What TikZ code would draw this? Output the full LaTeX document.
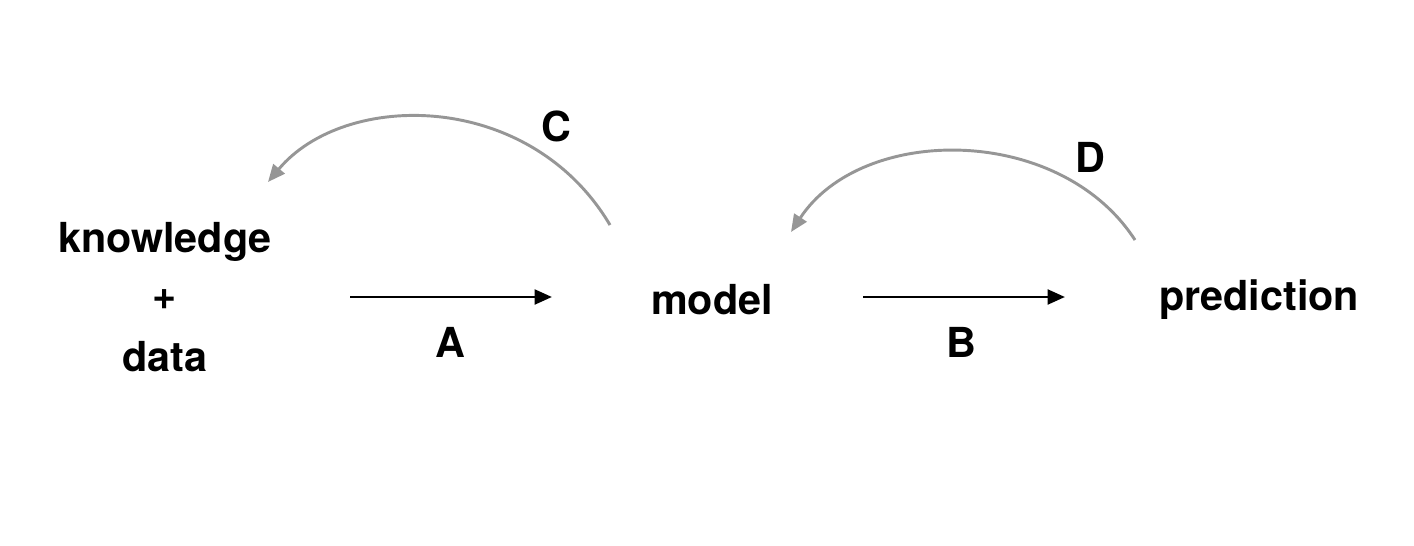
\documentclass[tikz,border=0pt]{standalone}
\usepackage{fontspec}
\setmainfont{TeX Gyre Heros}
\usetikzlibrary{arrows.meta}
\begin{document}
\begin{tikzpicture}[x=0.75pt,y=-0.75pt,
  lbl/.style={font=\fontsize{31}{36}\selectfont\bfseries, inner sep=0pt},
  blk/.style={line width=2.2pt, -{Triangle[length=13pt,width=11pt]}},
  gry/.style={line width=2.2pt, draw={rgb,255:red,150;green,150;blue,150}, -{Triangle[length=13pt,width=11pt]}}]
\useasboundingbox (0,0) rectangle (1414,546);
\node[lbl] (k) at (165,242) {knowledge};
\node[lbl] (plus) at (165,300) {+};
\node[lbl] (d) at (165,357) {data};
\node[lbl] (m) at (712,300) {model};
\node[lbl] (p) at (1259,300) {prediction};
\coordinate (a1) at (350,297); \coordinate (a2) at (552,297);
\coordinate (b1) at (863,297); \coordinate (b2) at (1065,297);
\coordinate (c1) at (610,225); \coordinate (c2) at (268,182);
\coordinate (d1) at (1135,240); \coordinate (d2) at (791,232);
\draw[blk] (a1) -- (a2);
\draw[blk] (b1) -- (b2);
\draw[gry] (c1) .. controls (530,90) and (345,90) .. (c2);
\draw[gry] (d1) .. controls (1060,124) and (862,124) .. (d2);
\node[lbl] (la) at (450,342) {A};
\node[lbl] (lb) at (961,342) {B};
\node[lbl] (lc) at (556,126) {C};
\node[lbl] (ld) at (1090,157) {D};
\end{tikzpicture}
\end{document}
